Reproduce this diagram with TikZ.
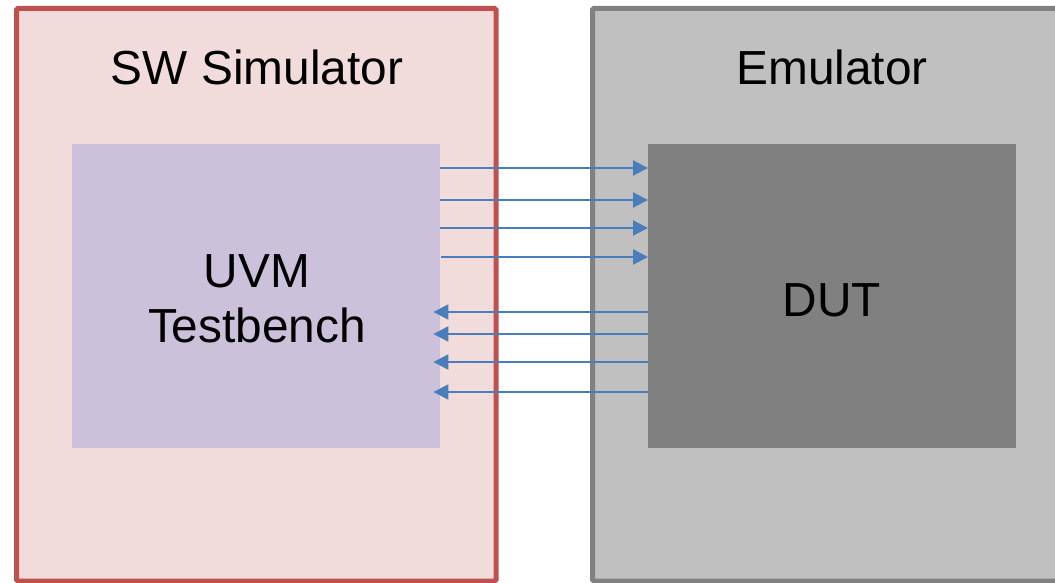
\documentclass[tikz,border=0pt]{standalone}
\usepackage{fontspec}
\setmainfont{Liberation Sans}
\usetikzlibrary{arrows.meta}
\definecolor{simfill}{HTML}{F2DCDB}
\definecolor{simdraw}{HTML}{C0504D}
\definecolor{emufill}{HTML}{C0C0C0}
\definecolor{emudraw}{HTML}{808080}
\definecolor{tbfill}{HTML}{CCC1DA}
\definecolor{dutfill}{HTML}{808080}
\definecolor{arrowblue}{HTML}{4A7EBB}
\tikzset{
  outerbox/.style={line width=5pt, rounded corners=1.5pt},
  innerbox/.style={draw=none, anchor=north west, inner sep=0pt},
  lbl/.style={font=\fontsize{47.8}{55}\selectfont, anchor=base, inner sep=0pt},
  sig/.style={arrowblue, line width=2.2pt, -{Triangle[length=15pt,width=15pt]}}
}
\begin{document}
\begin{tikzpicture}[x=1pt,y=-1pt]
\useasboundingbox (0,0) rectangle (1055,583);
% outer boxes
\draw[outerbox, draw=simdraw, fill=simfill] (16.5,8.5) rectangle (496,581);
\draw[outerbox, draw=emudraw, fill=emufill] (592.5,8.5) rectangle (1070,581);
% inner boxes
\node[innerbox, fill=tbfill, minimum width=368pt, minimum height=304pt] (tb) at (72,144) {};
\node[innerbox, fill=dutfill, minimum width=368pt, minimum height=304pt] (dut) at (648,144) {};
% labels
\node[lbl] (simlbl) at (257,85) {SW Simulator};
\node[lbl] (emulbl) at (832,85) {Emulator};
\node[lbl] (uvm) at (257,287) {UVM};
\node[lbl] (tbname) at (257,342) {Testbench};
\node[lbl] (dutlbl) at (832,316) {DUT};
% signals to DUT
\draw[sig] (tb.north east |- 0,168) -- (dut.north west |- 0,168);
\draw[sig] (tb.north east |- 0,200) -- (dut.north west |- 0,200);
\draw[sig] (tb.north east |- 0,228) -- (dut.north west |- 0,228);
\draw[sig] ([xshift=1pt]tb.north east |- 0,257) -- (dut.north west |- 0,257);
% signals from DUT
\draw[sig] (dut.north west |- 0,312) -- ([xshift=-7pt]tb.north east |- 0,312);
\draw[sig] (dut.north west |- 0,334) -- ([xshift=-7pt]tb.north east |- 0,334);
\draw[sig] (dut.north west |- 0,362) -- ([xshift=-7pt]tb.north east |- 0,362);
\draw[sig] (dut.north west |- 0,392) -- ([xshift=-7pt]tb.north east |- 0,392);
\end{tikzpicture}
\end{document}
